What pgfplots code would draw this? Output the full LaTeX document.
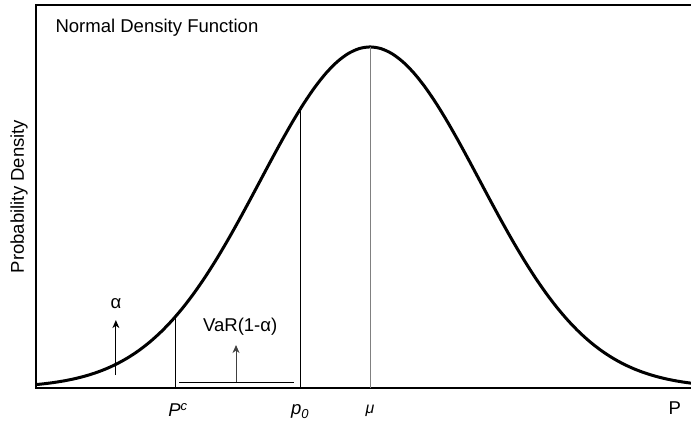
\documentclass[border=0pt]{standalone}
\usepackage{fontspec}
\setmainfont{Liberation Sans}
\usepackage{pgfplots}
\pgfplotsset{compat=1.18}
\usetikzlibrary{arrows.meta}

\newcommand\lbl{\fontsize{18.6}{21}\selectfont}

% standard normal shape, scaled so the peak is 1
\pgfplotstableread{
x y
-3.1 0.00819
-3.0 0.01111
-2.9 0.01492
-2.8 0.01984
-2.7 0.02612
-2.6 0.03405
-2.5 0.04394
-2.4 0.05613
-2.3 0.07100
-2.2 0.08892
-2.1 0.11025
-2.0 0.13534
-1.9 0.16447
-1.8 0.19790
-1.7 0.23575
-1.6 0.27804
-1.5 0.32465
-1.4 0.37531
-1.3 0.42956
-1.2 0.48675
-1.1 0.54607
-1.0 0.60653
-0.9 0.66698
-0.8 0.72615
-0.7 0.78270
-0.6 0.83527
-0.5 0.88250
-0.4 0.92312
-0.3 0.95600
-0.2 0.98020
-0.1 0.99501
0.0 1.00000
0.1 0.99501
0.2 0.98020
0.3 0.95600
0.4 0.92312
0.5 0.88250
0.6 0.83527
0.7 0.78270
0.8 0.72615
0.9 0.66698
1.0 0.60653
1.1 0.54607
1.2 0.48675
1.3 0.42956
1.4 0.37531
1.5 0.32465
1.6 0.27804
1.7 0.23575
1.8 0.19790
1.9 0.16447
2.0 0.13534
2.1 0.11025
2.2 0.08892
2.3 0.07100
2.4 0.05613
2.5 0.04394
2.6 0.03405
2.7 0.02612
2.8 0.01984
2.9 0.01492
3.0 0.01111
}\density

\begin{document}
\begin{tikzpicture}
\useasboundingbox (-36bp,-33bp) rectangle (655bp,388bp);
\begin{axis}[
  at={(0,0)}, anchor=south west,
  scale only axis,
  width=658bp, height=383bp,
  xmin=-3.036, xmax=2.945,
  ymin=0, ymax=1.123,
  ticks=none,
  axis line style={line width=1.2bp},
  clip mode=individual,
  every axis plot/.append style={no marks},
]
% density curve
\addplot[black, line width=3bp, smooth] table[x=x,y=y] {\density};
% verticals at P^c, p_0 and the mean
\addplot[black, line width=0.9bp] coordinates {(-1.764,-0.008) (-1.764,0.2125)};
\addplot[black, line width=0.9bp] coordinates {(-0.636,-0.008) (-0.636,0.817)};
\addplot[gray, line width=1bp] coordinates {(0,0) (0,1)};
% VaR bracket and arrows
\addplot[black, line width=0.9bp] coordinates {(-1.736,0.0176) (-0.69,0.0176)};
\addplot[black!75, line width=0.9bp, -{Stealth[length=8bp,width=7bp,inset=2.5bp]}] coordinates {(-1.218,0.0176) (-1.218,0.126)};
\addplot[black, line width=0.9bp, -{Stealth[length=8bp,width=7bp,inset=2.5bp]}] coordinates {(-2.31,0.038) (-2.31,0.199)};
% annotations
\node[font=\lbl] at (axis cs:-2.31,0.246) {α};
\node[font=\lbl] at (axis cs:-1.18,0.179) {VaR(1-α)};
\node[font=\lbl] at (axis cs:-1.745,-0.0645) {\textit{P}\textsuperscript{\textit{c}}};
\node[font=\lbl] at (axis cs:-0.636,-0.07) {\textit{p}\textsubscript{\textit{0}}};
\node[font=\fontsize{16}{18}\selectfont] at (axis cs:0,-0.068) {\textit{μ}};
\node[font=\lbl] at (axis cs:2.77,-0.06) {P};
\node[font=\lbl, anchor=west] at ([xshift=16bp,yshift=-23bp]rel axis cs:0,1) {Normal Density Function};
\node[font=\lbl, rotate=90] at ([xshift=-17bp]rel axis cs:0,0.5) {Probability Density};
\end{axis}
\end{tikzpicture}
\end{document}
